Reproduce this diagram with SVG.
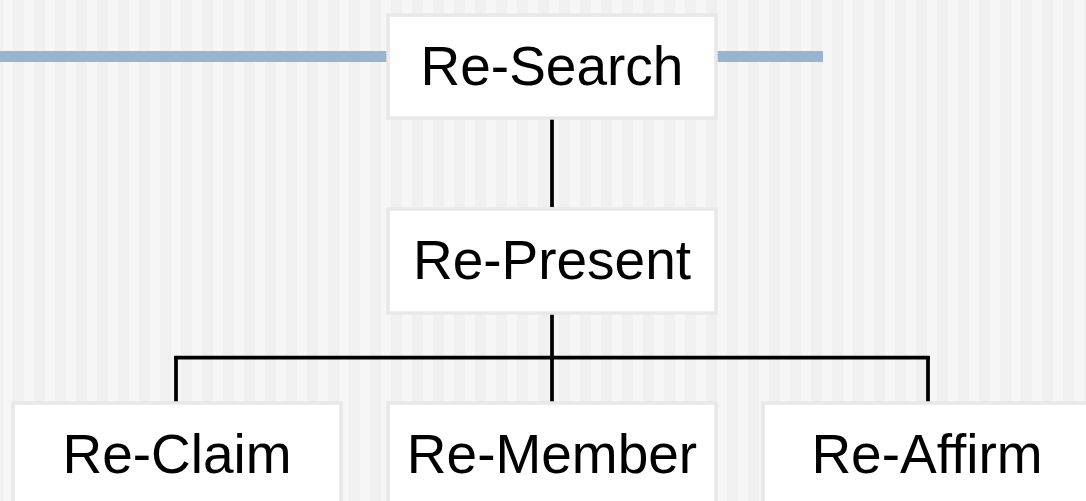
<svg xmlns="http://www.w3.org/2000/svg" width="1086" height="501" viewBox="0 0 1086 501">
<style>
.box{fill:#ffffff;stroke:#e8e8e8;stroke-width:3.5}
.lbl{font-family:"Liberation Sans",Arial,sans-serif;font-size:55px;fill:#000;text-anchor:middle}
.conn{stroke:#000;stroke-width:3.75;fill:none}
</style>
<rect x="0" y="0" width="1086" height="501" fill="#f0f0f0"/>
<line x1="3" y1="250.5" x2="1086" y2="250.5" stroke="#f6f6f6" stroke-width="501" stroke-dasharray="10 11"/>
<rect x="0" y="51" width="823" height="11" fill="#98b4cf"/>
<g id="connectors">
<line class="conn" x1="552" y1="119" x2="552" y2="207"/>
<line class="conn" x1="552" y1="314" x2="552" y2="402"/>
<line class="conn" x1="174.1" y1="357.5" x2="929.9" y2="357.5"/>
<line class="conn" x1="176" y1="357.5" x2="176" y2="402"/>
<line class="conn" x1="928" y1="357.5" x2="928" y2="402"/>
</g>
<g id="re-search">
<rect class="box" x="388" y="15" width="328" height="103"/>
<text class="lbl" x="552" y="85">Re-Search</text>
</g>
<g id="re-present">
<rect class="box" x="388" y="209" width="328" height="104"/>
<text class="lbl" x="552" y="279">Re-Present</text>
</g>
<g id="re-claim">
<rect class="box" x="13" y="403" width="328" height="110"/>
<text class="lbl" x="177" y="473">Re-Claim</text>
</g>
<g id="re-member">
<rect class="box" x="388" y="403" width="328" height="110"/>
<text class="lbl" x="552" y="473">Re-Member</text>
</g>
<g id="re-affirm">
<rect class="box" x="763" y="403" width="328" height="110"/>
<text class="lbl" x="927" y="473">Re-Affirm</text>
</g>
</svg>
